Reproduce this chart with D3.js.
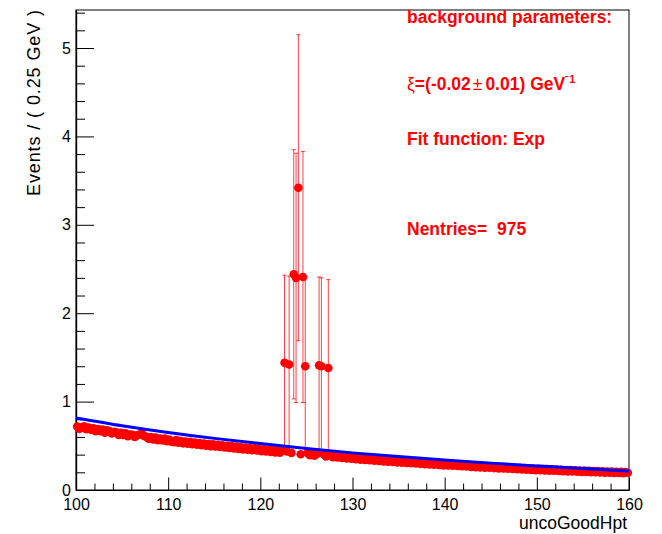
<!DOCTYPE html>
<html>
<head>
<meta charset="utf-8">
<script src="https://cdn.jsdelivr.net/npm/d3@7"></script>
<style>
  html, body { margin: 0; padding: 0; background: #fff; }
  svg { display: block; font-family: "Liberation Sans", Arial, Helvetica, sans-serif; }
</style>
</head>
<body>
<svg id="chart" width="662" height="534"></svg>
<script>
// ---------------- data ----------------
const binLow = 100;
const binWidth = 0.25;
// events per 0.25 GeV bin, 100 -> 160 GeV (240 bins)
const events = [
  0.718, 0.692, 0.709, 0.721, 0.688, 0.706, 0.682, 0.698, 0.666, 0.690,
  0.664, 0.683, 0.649, 0.674, 0.666, 0.639, 0.658, 0.654, 0.624, 0.648,
  0.622, 0.642, 0.609, 0.628, 0.624, 0.599, 0.618, 0.628, 0.640, 0.612,
  0.602, 0.579, 0.600, 0.572, 0.593, 0.564, 0.582, 0.560, 0.581, 0.552,
  0.571, 0.546, 0.542, 0.566, 0.534, 0.555, 0.528, 0.549, 0.524, 0.544,
  0.518, 0.538, 0.512, 0.532, 0.506, 0.526, 0.502, 0.521, 0.494, 0.516,
  0.492, 0.512, 0.486, 0.506, 0.481, 0.501, 0.475, 0.496, 0.471, 0.492,
  0.465, 0.486, 0.460, 0.481, 0.456, 0.476, 0.449, 0.471, 0.446, 0.466,
  0.440, 0.461, 0.435, 0.456, 0.431, 0.452, 0.426, 0.446, 0.422, 0.442,
  1.440, 0.436, 1.420, 0.420, 2.440, 2.400, 3.420, 0.405, 2.410, 1.400,
  0.418, 0.394, 0.414, 0.389, 0.409, 1.410, 1.400, 0.404, 0.380, 1.380,
  0.398, 0.372, 0.392, 0.367, 0.388, 0.363, 0.383, 0.358, 0.378, 0.354,
  0.374, 0.349, 0.369, 0.344, 0.365, 0.340, 0.360, 0.336, 0.356, 0.332,
  0.352, 0.328, 0.348, 0.324, 0.344, 0.320, 0.340, 0.316, 0.336, 0.312,
  0.332, 0.310, 0.328, 0.306, 0.324, 0.303, 0.321, 0.299, 0.317, 0.296,
  0.314, 0.293, 0.310, 0.289, 0.307, 0.286, 0.303, 0.282, 0.300, 0.279,
  0.298, 0.277, 0.294, 0.274, 0.291, 0.271, 0.288, 0.268, 0.285, 0.265,
  0.282, 0.262, 0.279, 0.259, 0.276, 0.256, 0.273, 0.253, 0.270, 0.251,
  0.267, 0.248, 0.264, 0.245, 0.262, 0.243, 0.259, 0.240, 0.256, 0.238,
  0.254, 0.235, 0.251, 0.232, 0.249, 0.230, 0.246, 0.228, 0.244, 0.225,
  0.241, 0.224, 0.238, 0.222, 0.236, 0.219, 0.234, 0.217, 0.232, 0.215,
  0.229, 0.213, 0.227, 0.211, 0.225, 0.209, 0.223, 0.207, 0.221, 0.205,
  0.219, 0.203, 0.217, 0.201, 0.215, 0.200, 0.214, 0.198, 0.212, 0.197,
  0.210, 0.195, 0.209, 0.194, 0.207, 0.192, 0.206, 0.191, 0.204, 0.195
];
// bins with visible error bars (index into events) and their errors
const errorBins = [90, 92, 94, 95, 96, 98, 99, 105, 106, 109];
const errorSizes = [0.99, 1.00, 1.41, 1.41, 1.73, 1.42, 0.99, 1.00, 1.00, 1.00];

// fitted exponential background
const fitX = [100, 105, 110, 115, 120, 125, 130, 135, 140, 145, 150, 155, 160];
const fitY = [0.815, 0.727, 0.650, 0.584, 0.525, 0.470, 0.420, 0.378, 0.340, 0.304, 0.272, 0.242, 0.215];

const xMajorTicks = [100, 110, 120, 130, 140, 150, 160];
const yMajorTicks = [0, 1, 2, 3, 4, 5];

const statLines = ["background parameters:", "Fit function: Exp", "Nentries=\u00a0 975"];

// ---------------- layout ----------------
const svg = d3.select("#chart");
const L = 76, R = 629, T = 10, B = 490;
const x = d3.scaleLinear().domain([100, 160]).range([L, R]);
const y = d3.scaleLinear().domain([0, 5.43]).range([B, T]);

svg.append("rect").attr("width", 662).attr("height", 534).attr("fill", "#fff");

// frame (top/right)
svg.append("rect")
  .attr("x", L).attr("y", T).attr("width", R - L).attr("height", B - T)
  .attr("fill", "none").attr("stroke", "#000").attr("stroke-width", 1);

// minor ticks
const xMinor = d3.range(100, 160.001, 2).filter(v => !xMajorTicks.includes(v));
const yMinor = d3.range(0, 5.43, 0.2).map(v => +v.toFixed(2)).filter(v => !yMajorTicks.includes(v));

const gxMinor = svg.append("g").attr("transform", `translate(0,${B})`)
  .call(d3.axisBottom(x).tickValues(xMinor).tickSize(-6.5).tickSizeOuter(0).tickFormat(""));
const gyMinor = svg.append("g").attr("transform", `translate(${L},0)`)
  .call(d3.axisLeft(y).tickValues(yMinor).tickSize(-9).tickSizeOuter(0).tickFormat(""));

const gx = svg.append("g").attr("transform", `translate(0,${B})`)
  .call(d3.axisBottom(x).tickValues(xMajorTicks).tickSize(-12.5).tickSizeOuter(0).tickPadding(9).tickFormat(d3.format("d")));
const gy = svg.append("g").attr("transform", `translate(${L},0)`)
  .call(d3.axisLeft(y).tickValues(yMajorTicks).tickSize(-18).tickSizeOuter(0).tickPadding(5).tickFormat(d3.format("d")));

[gx, gy, gxMinor, gyMinor].forEach(g => {
  g.selectAll("line").attr("stroke", "#000").attr("stroke-width", 1);
  g.select(".domain").attr("stroke", "#000").attr("stroke-width", 1.2);
  g.selectAll("text").attr("fill", "#000").attr("font-size", 16)
    .attr("font-family", "Liberation Sans, Arial, sans-serif");
});

// axis titles
svg.append("text")
  .attr("transform", `translate(39.5,${T}) rotate(-90)`)
  .attr("text-anchor", "end")
  .attr("font-size", 18)
  .attr("textLength", 186)
  .attr("lengthAdjust", "spacing")
  .attr("fill", "#000")
  .text("Events / ( 0.25 GeV )");

svg.append("text")
  .attr("x", 627).attr("y", 529)
  .attr("text-anchor", "end")
  .attr("font-size", 17.5)
  .attr("fill", "#000")
  .text("uncoGoodHpt");

// ---------------- data marks ----------------
const pts = events.map((v, i) => ({ x: binLow + binWidth * (i + 0.5), v: v, i: i }));
const errs = errorBins.map((b, k) => ({ x: binLow + binWidth * (b + 0.5), v: events[b], e: errorSizes[k] }));

const gErr = svg.append("g").attr("stroke", "#ff0000").attr("stroke-width", 1).attr("stroke-opacity", 0.75);
gErr.selectAll("line.v").data(errs).enter().append("line")
  .attr("x1", d => x(d.x)).attr("x2", d => x(d.x))
  .attr("y1", d => y(d.v - d.e)).attr("y2", d => y(d.v + d.e));
gErr.selectAll("line.t").data(errs).enter().append("line")
  .attr("x1", d => x(d.x) - 2).attr("x2", d => x(d.x) + 2)
  .attr("y1", d => y(d.v + d.e)).attr("y2", d => y(d.v + d.e));
gErr.selectAll("line.b").data(errs).enter().append("line")
  .attr("x1", d => x(d.x) - 2).attr("x2", d => x(d.x) + 2)
  .attr("y1", d => y(d.v - d.e)).attr("y2", d => y(d.v - d.e));

svg.append("g").selectAll("circle").data(pts).enter().append("circle")
  .attr("cx", d => x(d.x)).attr("cy", d => y(d.v)).attr("r", 4.3)
  .attr("fill", "#ff0000");

const fitData = fitX.map((vx, i) => [vx, fitY[i]]);
svg.append("path")
  .datum(fitData)
  .attr("fill", "none").attr("stroke", "#0000ff").attr("stroke-width", 3)
  .attr("d", d3.line().x(d => x(d[0])).y(d => y(d[1])).curve(d3.curveMonotoneX));

// ---------------- stats text ----------------
const st = svg.append("g").attr("fill", "#ff0000").attr("font-weight", "bold").attr("font-size", 17.5);
st.append("text").attr("x", 407).attr("y", 22.5).text(statLines[0]);
const xi = st.append("text").attr("x", 407).attr("y", 89.5);
xi.append("tspan").attr("font-weight", "normal").text("ξ");
xi.append("tspan").text("=(-0.02");
xi.append("tspan").attr("font-weight", "normal").attr("dx", 2).text("±");
xi.append("tspan").attr("dx", 3).text("0.01) GeV");
xi.append("tspan").attr("font-size", 11).attr("dy", -7).text("⁻1");
st.append("text").attr("x", 407).attr("y", 145).text(statLines[1]);
st.append("text").attr("x", 407).attr("y", 235).text(statLines[2]);
</script>
</body>
</html>
